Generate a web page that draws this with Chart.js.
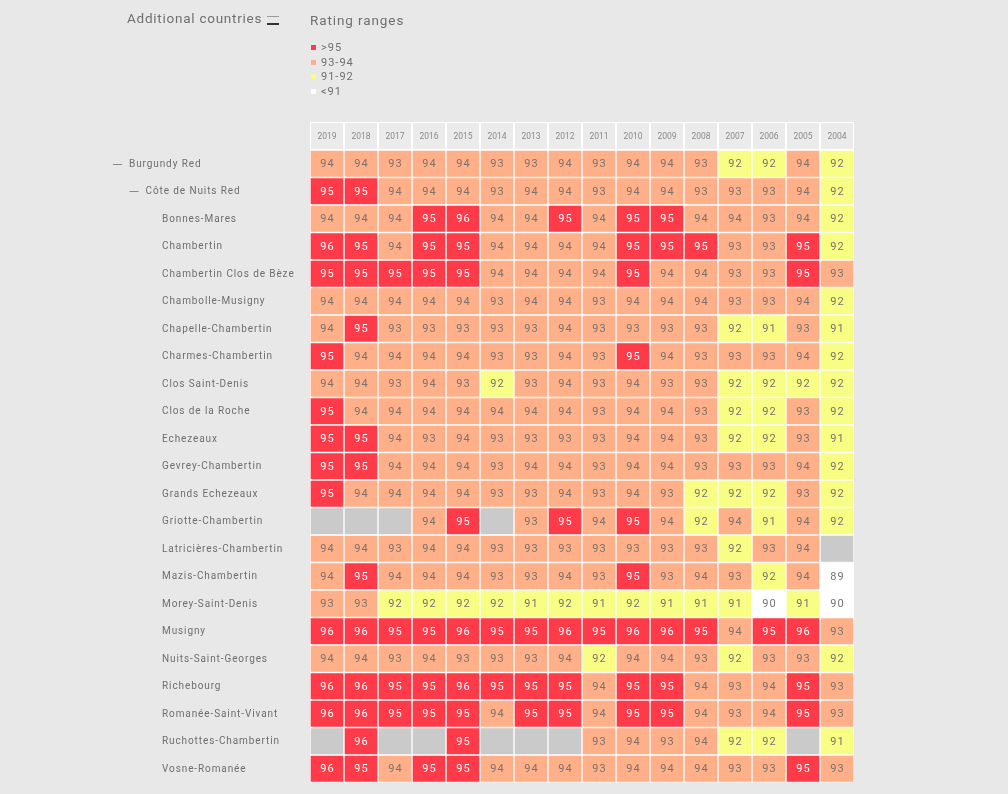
<!DOCTYPE html>
<html>
<head>
<meta charset="utf-8">
<script src="https://cdn.jsdelivr.net/npm/chart.js@4.4.1/dist/chart.umd.min.js"></script>
<style>
  body { margin: 0; background: #e8e8e8; font-family: Roboto, sans-serif; }
  .wrap { position: relative; width: 1008px; height: 794px; }
  #chart { position: absolute; left: 0; top: 0; }
  .countries { position: absolute; left: 127px; top: 10px; font-size: 13.5px; letter-spacing: 0.75px; color: #707070; }
  .menu { position: absolute; left: 267px; top: 16px; width: 12px; }
  .menu i { display: block; height: 1px; margin-bottom: 6px; background: #999; }
  .menu i + i { height: 2px; background: #333; }
  .ranges { position: absolute; left: 310px; top: 12px; font-size: 13.5px; letter-spacing: 0.9px; color: #707070; }
  .legend { position: absolute; left: 311px; top: 40px; font-size: 11px; letter-spacing: 1px; color: #707070; }
  .legend div { height: 14.5px; line-height: 15px; }
  .legend span { display: inline-block; width: 5px; height: 5px; margin-right: 5px; vertical-align: 1px; }
</style>
</head>
<body>
<div class="wrap">
  <canvas id="chart" width="1008" height="794"></canvas>
  <div class="countries">Additional countries</div>
  <div class="menu"><i></i><i></i></div>
  <div class="ranges">Rating ranges</div>
  <div class="legend" id="legend"></div>
</div>
<script>
// vintages, newest first
const years = ['2019','2018','2017','2016','2015','2014','2013','2012','2011','2010','2009','2008','2007','2006','2005','2004'];

const regions = ['Burgundy Red','Côte de Nuits Red','Bonnes-Mares','Chambertin','Chambertin Clos de Bèze','Chambolle-Musigny',
  'Chapelle-Chambertin','Charmes-Chambertin','Clos Saint-Denis','Clos de la Roche','Echezeaux','Gevrey-Chambertin',
  'Grands Echezeaux','Griotte-Chambertin','Latricières-Chambertin','Mazis-Chambertin','Morey-Saint-Denis','Musigny',
  'Nuits-Saint-Georges','Richebourg','Romanée-Saint-Vivant','Ruchottes-Chambertin','Vosne-Romanée'];
// tree depth of each row (0 = region, 1 = subregion, 2 = appellation)
const levels = [0,1,2,2,2,2,2,2,2,2,2,2,2,2,2,2,2,2,2,2,2,2,2];

// ratings per row, 2019 -> 2004 (null = no rating)
const burgundyRed      = [94,94,93,94,94,93,93,94,93,94,94,93,92,92,94,92];
const coteDeNuitsRed   = [95,95,94,94,94,93,94,94,93,94,94,93,93,93,94,92];
const bonnesMares      = [94,94,94,95,96,94,94,95,94,95,95,94,94,93,94,92];
const chambertin       = [96,95,94,95,95,94,94,94,94,95,95,95,93,93,95,92];
const closDeBeze       = [95,95,95,95,95,94,94,94,94,95,94,94,93,93,95,93];
const chambolle        = [94,94,94,94,94,93,94,94,93,94,94,94,93,93,94,92];
const chapelle         = [94,95,93,93,93,93,93,94,93,93,93,93,92,91,93,91];
const charmes          = [95,94,94,94,94,93,93,94,93,95,94,93,93,93,94,92];
const closStDenis      = [94,94,93,94,93,92,93,94,93,94,93,93,92,92,92,92];
const closDeLaRoche    = [95,94,94,94,94,94,94,94,93,94,94,93,92,92,93,92];
const echezeaux        = [95,95,94,93,94,93,93,93,93,94,94,93,92,92,93,91];
const gevrey           = [95,95,94,94,94,93,94,94,93,94,94,93,93,93,94,92];
const grandsEchezeaux  = [95,94,94,94,94,93,93,94,93,94,93,92,92,92,93,92];
const griotte          = [null,null,null,94,95,null,93,95,94,95,94,92,94,91,94,92];
const latricieres      = [94,94,93,94,94,93,93,93,93,93,93,93,92,93,94,null];
const mazis            = [94,95,94,94,94,93,93,94,93,95,93,94,93,92,94,89];
const morey            = [93,93,92,92,92,92,91,92,91,92,91,91,91,90,91,90];
const musigny          = [96,96,95,95,96,95,95,96,95,96,96,95,94,95,96,93];
const nuits            = [94,94,93,94,93,93,93,94,92,94,94,93,92,93,93,92];
const richebourg       = [96,96,95,95,96,95,95,95,94,95,95,94,93,94,95,93];
const romaneeStVivant  = [96,96,95,95,95,94,95,95,94,95,95,94,93,94,95,93];
const ruchottes        = [null,96,null,null,95,null,null,null,93,94,93,94,92,92,null,91];
const vosneRomanee     = [96,95,94,95,95,94,94,94,93,94,94,94,93,93,95,93];

const rows = [burgundyRed, coteDeNuitsRed, bonnesMares, chambertin, closDeBeze, chambolle, chapelle, charmes,
  closStDenis, closDeLaRoche, echezeaux, gevrey, grandsEchezeaux, griotte, latricieres, mazis, morey, musigny,
  nuits, richebourg, romaneeStVivant, ruchottes, vosneRomanee];

const rangeLabels = ['>95', '93-94', '91-92', '<91'];
const rangeColors = ['#ff3b4a', '#ffb088', '#f8fd83', '#ffffff'];

function colorFor(v) {
  if (v == null) return '#cacaca';
  if (v >= 95) return rangeColors[0];
  if (v >= 93) return rangeColors[1];
  if (v >= 91) return rangeColors[2];
  return rangeColors[3];
}

// legend
const legend = document.getElementById('legend');
rangeLabels.forEach((l, i) => {
  let d = document.createElement('div');
  d.innerHTML = '<span style="background:' + rangeColors[i] + '"></span>' + l;
  legend.appendChild(d);
});

// one floating-bar dataset per vintage column
const datasets = years.map((y, c) => {
  let col = rows.map(r => r[c]);
  return {
    label: y,
    ratings: col,
    data: col.map(() => [c, c + 1]),
    backgroundColor: col.map(colorFor),
    borderColor: '#ffffff',
    borderWidth: 1,
    borderSkipped: false,
    barPercentage: 1,
    categoryPercentage: 1,
    grouped: false
  };
});

const headerCells = {
  id: 'headerCells',
  beforeDraw(chart) {
    const ctx = chart.ctx, x = chart.scales.x, top = chart.scales.x2;
    ctx.save();
    for (let c = 0; c < years.length; c++) {
      let l = x.getPixelForValue(c), r = x.getPixelForValue(c + 1);
      ctx.fillStyle = '#ffffff';
      ctx.fillRect(l, top.top, r - l, top.bottom - top.top);
      ctx.fillStyle = '#ebebeb';
      ctx.fillRect(l + 1, top.top + 1, r - l - 2, top.bottom - top.top - 2);
    }
    ctx.restore();
  }
};

const cellText = {
  id: 'cellText',
  afterDatasetsDraw(chart) {
    const ctx = chart.ctx;
    ctx.save();
    ctx.font = '11px Roboto';
    ctx.letterSpacing = '1.2px';
    ctx.textAlign = 'center';
    ctx.textBaseline = 'middle';
    chart.data.datasets.forEach((ds, c) => {
      chart.getDatasetMeta(c).data.forEach((bar, r) => {
        let v = ds.ratings[r];
        if (v == null) return;
        ctx.fillStyle = v >= 95 ? '#ffffff' : '#777370';
        ctx.fillText(v, (bar.x + bar.base) / 2 + 0.6, bar.y + 0.5);
      });
    });
    ctx.restore();
  }
};

const rowLabels = {
  id: 'rowLabels',
  afterDraw(chart) {
    const ctx = chart.ctx, y = chart.scales.y;
    const start = chart.chartArea.left - 181;
    ctx.save();
    ctx.font = '10px Roboto';
    ctx.letterSpacing = '0.9px';
    ctx.textBaseline = 'middle';
    ctx.fillStyle = '#6e6e6e';
    ctx.strokeStyle = '#8a8a8a';
    ctx.lineWidth = 1;
    regions.forEach((name, j) => {
      let py = y.getPixelForValue(j);
      let tx = start + levels[j] * 16.5;
      if (levels[j] < 2) {
        ctx.beginPath();
        ctx.moveTo(tx - 16, Math.round(py) + 0.5);
        ctx.lineTo(tx - 7, Math.round(py) + 0.5);
        ctx.stroke();
      }
      ctx.fillText(name, tx, py + 0.5);
    });
    ctx.restore();
  }
};

new Chart(document.getElementById('chart'), {
  type: 'bar',
  data: { labels: regions, datasets: datasets },
  options: {
    indexAxis: 'y',
    responsive: false,
    animation: false,
    layout: { padding: { left: 310, right: 154, top: 122, bottom: 11.5 } },
    plugins: { legend: { display: false }, tooltip: { enabled: false } },
    scales: {
      x: { type: 'linear', min: 0, max: years.length, display: false },
      x2: {
        type: 'category',
        labels: years,
        position: 'top',
        offset: true,
        grid: { display: false, drawTicks: false },
        border: { display: false },
        ticks: { color: '#8a8a8a', padding: 8, font: { family: 'Roboto', size: 8.5 }, maxRotation: 0, autoSkip: false },
        afterFit(scale) { scale.height = 28; }
      },
      y: { type: 'category', display: false }
    }
  },
  plugins: [headerCells, cellText, rowLabels]
});
</script>
</body>
</html>
